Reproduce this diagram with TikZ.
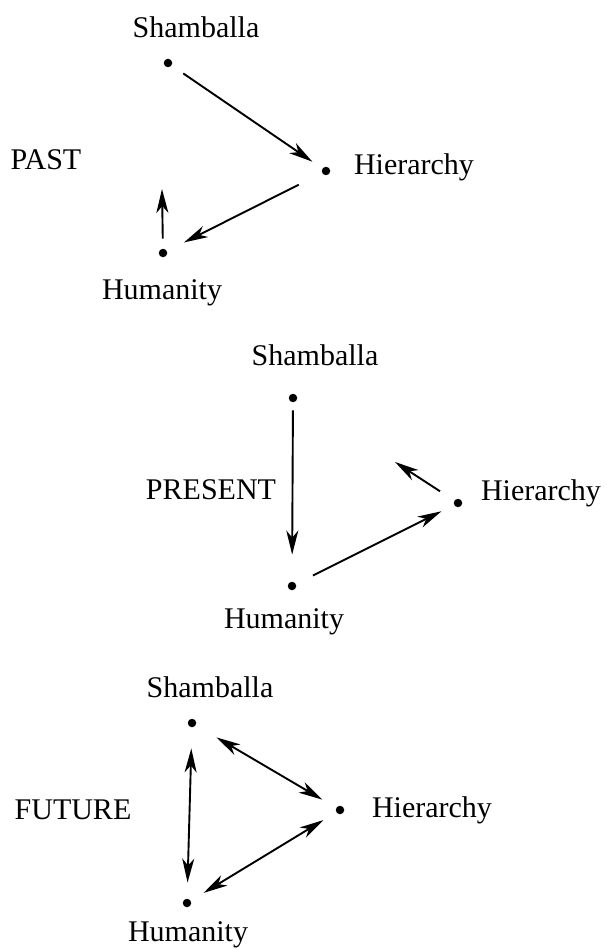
\documentclass[tikz,border=0pt]{standalone}
\usepackage{fontspec}
\setmainfont{Liberation Serif}
\usetikzlibrary{arrows.meta}
\begin{document}
\begin{tikzpicture}[x=1pt,y=-1pt,
  lbl/.style={inner sep=0pt, font=\fontsize{30}{35}\selectfont},
  dotn/.style={circle, fill=black, inner sep=0pt, minimum size=8.5pt},
  tipk/.tip={Stealth[length=24pt,width=12pt,inset=7pt]},
  arr/.style={line width=1.9pt, -tipk},
  darr/.style={line width=1.9pt, tipk-tipk}]
\useasboundingbox (0,0) rectangle (606,949);
% PAST
\node[dotn] (s1) at (168,63) {};
\node[dotn] (h1) at (326,171) {};
\node[dotn] (u1) at (163,253) {};
\node[lbl] (s1t) at (196,27) {Shamballa};
\node[lbl] (h1t) at (414,167) {Hierarchy};
\node[lbl] (u1t) at (162,293) {Humanity};
\node[lbl] (past) at (46,160) {PAST};
\coordinate (pa) at (162,189);
\draw[arr, shorten <=14pt, shorten >=12pt] (s1) -- (h1);
\draw[arr, shorten <=26pt, shorten >=19pt] (h1) -- (u1);
\draw[arr, shorten <=10pt] (u1) -- (pa);
% PRESENT
\node[dotn] (s2) at (293,398) {};
\node[dotn] (u2) at (292,586) {};
\node[dotn] (h2) at (458,503) {};
\node[lbl] (s2t) at (315,355) {Shamballa};
\node[lbl] (u2t) at (284,622) {Humanity};
\node[lbl] (h2t) at (541,493) {Hierarchy};
\node[lbl] (present) at (211,490) {PRESENT};
\coordinate (pr) at (395,462);
\draw[arr, shorten <=8pt, shorten >=27pt] (s2) -- (u2);
\draw[arr, shorten <=19pt, shorten >=14pt] (u2) -- (h2);
\draw[arr, shorten <=17pt] (h2) -- (pr);
% FUTURE
\node[dotn] (s3) at (192,723) {};
\node[dotn] (h3) at (340,810) {};
\node[dotn] (u3) at (187,903) {};
\node[lbl] (s3t) at (210,687) {Shamballa};
\node[lbl] (h3t) at (432,810) {Hierarchy};
\node[lbl] (u3t) at (188,935) {Humanity};
\node[lbl] (future) at (73,810) {FUTURE};
\draw[darr, shorten <=24pt, shorten >=16pt] (s3) -- (h3);
\draw[darr, shorten <=21pt, shorten >=16pt] (s3) -- (u3);
\draw[darr, shorten <=15pt, shorten >=15pt] (h3) -- (u3);
\end{tikzpicture}
\end{document}
